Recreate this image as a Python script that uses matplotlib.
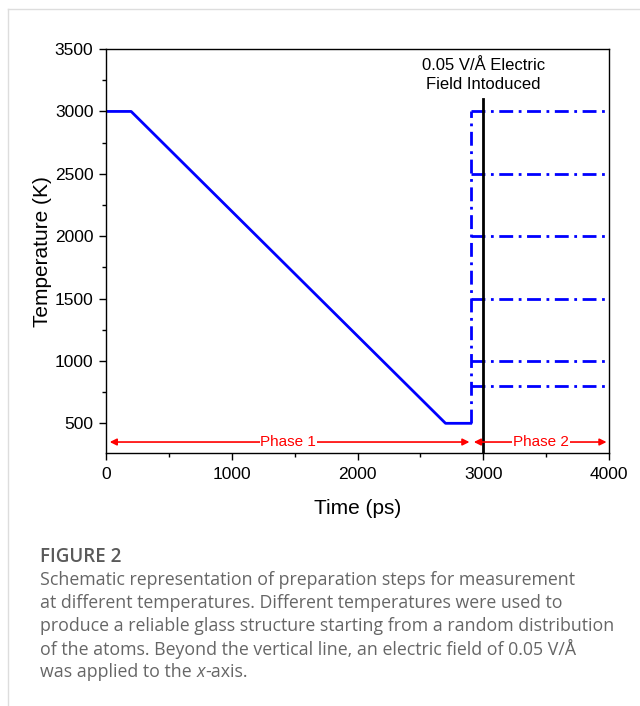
import matplotlib.pyplot as plt
from matplotlib.lines import Line2D
from matplotlib.ticker import MultipleLocator

# cooling schedule (phase 1)
ramp_time = [0, 200, 2700, 2900]
ramp_temp = [3000, 3000, 500, 500]

# constant temperature runs (phase 2)
hold_temps = [3000, 2500, 2000, 1500, 1000, 800]
switch_time = 2900
field_time = 3000
end_time = 4000

x_ticks = [0, 1000, 2000, 3000, 4000]
y_ticks = [500, 1000, 1500, 2000, 2500, 3000, 3500]

caption_title = "FIGURE 2"
caption_lines = [
    "Schematic representation of preparation steps for measurement",
    "at different temperatures. Different temperatures were used to",
    "produce a reliable glass structure starting from a random distribution",
    "of the atoms. Beyond the vertical line, an electric field of 0.05 V/Å",
]

plt.rcParams["font.family"] = ["Liberation Sans", "DejaVu Sans"]

fig = plt.figure(figsize=(6.4, 7.06), dpi=100)
ax = fig.add_axes([0.1656, 0.358, 0.786, 0.5725])

blue = "#0000ff"
dashdot = (0, (5, 2, 1, 2))

ax.plot(ramp_time, ramp_temp, color=blue, lw=2)
ax.plot([switch_time, switch_time], [min(ramp_temp), max(hold_temps)],
        color=blue, lw=2, ls=dashdot)
for t in hold_temps:
    ax.plot([switch_time, end_time], [t, t], color=blue, lw=2, ls=dashdot)

ax.plot([field_time, field_time], [260, 3100], color="black", lw=2)

ax.text(field_time, 3290, "0.05 V/Å Electric\nField Intoduced",
        ha="center", va="center", fontsize=12, linespacing=1.35)

# phase arrows
arrow_y = 350
ax.annotate("", xy=(30, arrow_y), xytext=(2890, arrow_y),
            arrowprops=dict(arrowstyle="<|-|>", color="red", lw=1.2,
                            mutation_scale=10, shrinkA=0, shrinkB=0))
ax.annotate("", xy=(2925, arrow_y), xytext=(3980, arrow_y),
            arrowprops=dict(arrowstyle="<|-|>", color="red", lw=1.2,
                            mutation_scale=10, shrinkA=0, shrinkB=0))
ax.text(1450, arrow_y, "Phase 1", color="red", ha="center", va="center",
        fontsize=11, bbox=dict(fc="white", ec="none", pad=0.5))
ax.text(3460, arrow_y, "Phase 2", color="red", ha="center", va="center",
        fontsize=11, bbox=dict(fc="white", ec="none", pad=0.5))

ax.set_xlim(0, end_time)
ax.set_ylim(260, 3500)
ax.set_xticks(x_ticks)
ax.set_yticks(y_ticks)
ax.xaxis.set_minor_locator(MultipleLocator(500))
ax.yaxis.set_minor_locator(MultipleLocator(250))
ax.tick_params(which="major", direction="out", length=5, width=1,
               labelsize=12.5, pad=4)
ax.tick_params(axis="x", which="major", pad=5)
ax.tick_params(which="minor", direction="out", length=3, width=1)
for s in ax.spines.values():
    s.set_linewidth(1)

ax.set_xlabel("Time (ps)", fontsize=15, labelpad=12)
ax.set_ylabel("Temperature (K)", fontsize=15, labelpad=2)

# caption and page frame
fig.add_artist(Line2D([8 / 640, 8 / 640], [0, 1 - 9 / 706],
                      color="#dddddd", lw=1))
fig.add_artist(Line2D([8 / 640, 1], [1 - 9 / 706, 1 - 9 / 706],
                      color="#dddddd", lw=1))

cap_size = 12.8
cap_color = "#666666"
fig.text(40 / 640, 1 - 557 / 706, caption_title, fontsize=13.5,
         family="Open Sans", weight="semibold", color="#5a5a5a",
         va="center")
cap_y = 580
for line in caption_lines:
    fig.text(40 / 640, 1 - cap_y / 706, line, fontsize=cap_size,
             family="Open Sans", color=cap_color, va="center")
    cap_y += 23
last = fig.text(40 / 640, 1 - cap_y / 706, "was applied to the ",
                fontsize=cap_size, family="Open Sans", color=cap_color,
                va="center")
fig.canvas.draw()
bb = last.get_window_extent()
xt = fig.text(bb.x1 / 640, 1 - cap_y / 706, "x", fontsize=cap_size,
              family="Open Sans", style="italic", color=cap_color,
              va="center")
bb2 = xt.get_window_extent()
fig.text(bb2.x1 / 640, 1 - cap_y / 706, "-axis.", fontsize=cap_size,
         family="Open Sans", color=cap_color, va="center")

fig.savefig("out.png", dpi=100)
